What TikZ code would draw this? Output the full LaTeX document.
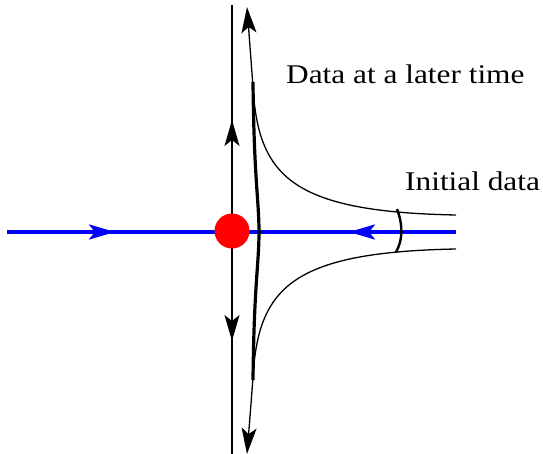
\documentclass[tikz,border=0pt]{standalone}
\usepackage{fontspec}
\setmainfont{Liberation Serif}
\newfontfamily\lblfont[FakeStretch=1.16]{Liberation Serif}
\usetikzlibrary{arrows.meta}
\begin{document}
\begin{tikzpicture}[x=1pt,y=-1pt,
  thinline/.style={line width=1.3pt,black},
  blueline/.style={line width=3.4pt,blue},
  thickline/.style={line width=3.2pt,black},
  tip/.style={-{Stealth[length=26pt,width=15pt,inset=6pt]}},
  lbl/.style={anchor=base west,inner sep=0pt,font=\lblfont\fontsize{27}{32}\selectfont}]
\useasboundingbox (0,0) rectangle (543,454);
% coordinates
\coordinate (vtop) at (232,5);
\coordinate (vbot) at (232,454);
\coordinate (uptip) at (232,120);
\coordinate (downtip) at (232,341);
\coordinate (bl) at (7,232);
\coordinate (br) at (456,232);
\coordinate (rtip) at (115,232);
\coordinate (ltip) at (349,232);
\coordinate (ctip) at (247,7);
\coordinate (dtip) at (247,454);
\coordinate (ue) at (456,215);
\coordinate (le) at (456,249);
% vertical line with arrows
\draw[thinline] (vtop) -- (vbot);
\draw[thinline,tip] (232,232) -- (uptip);
\draw[thinline,tip] (232,232) -- (downtip);
% blue horizontal
\draw[blueline] (bl) -- (br);
\draw[blueline,tip] (bl) -- (rtip);
\draw[blueline,tip] (br) -- (ltip);
% hyperbolas
\draw[thinline,tip] (ue) .. controls (300,212) and (262,180) .. (254,100) .. controls (251,60) .. (ctip);
\draw[thinline,tip] (le) .. controls (300,252) and (262,284) .. (254,364) .. controls (251,404) .. (dtip);
% thick curve (data at later time)
\draw[thickline] (253,82) .. controls (254,180) and (259,200) .. (259,232) .. controls (259,264) and (254,284) .. (253,380);
% initial data arc
\draw[line width=2.4pt] (397,209) .. controls (403,225) and (403,240) .. (396,252);
% red dot
\node[circle,fill=red,minimum size=35pt,inner sep=0pt] (dot) at (232,231) {};
% labels
\node[lbl] (later) at (286,84) {Data at a later time};
\node[lbl] (init) at (405,191) {Initial data};
\end{tikzpicture}
\end{document}
